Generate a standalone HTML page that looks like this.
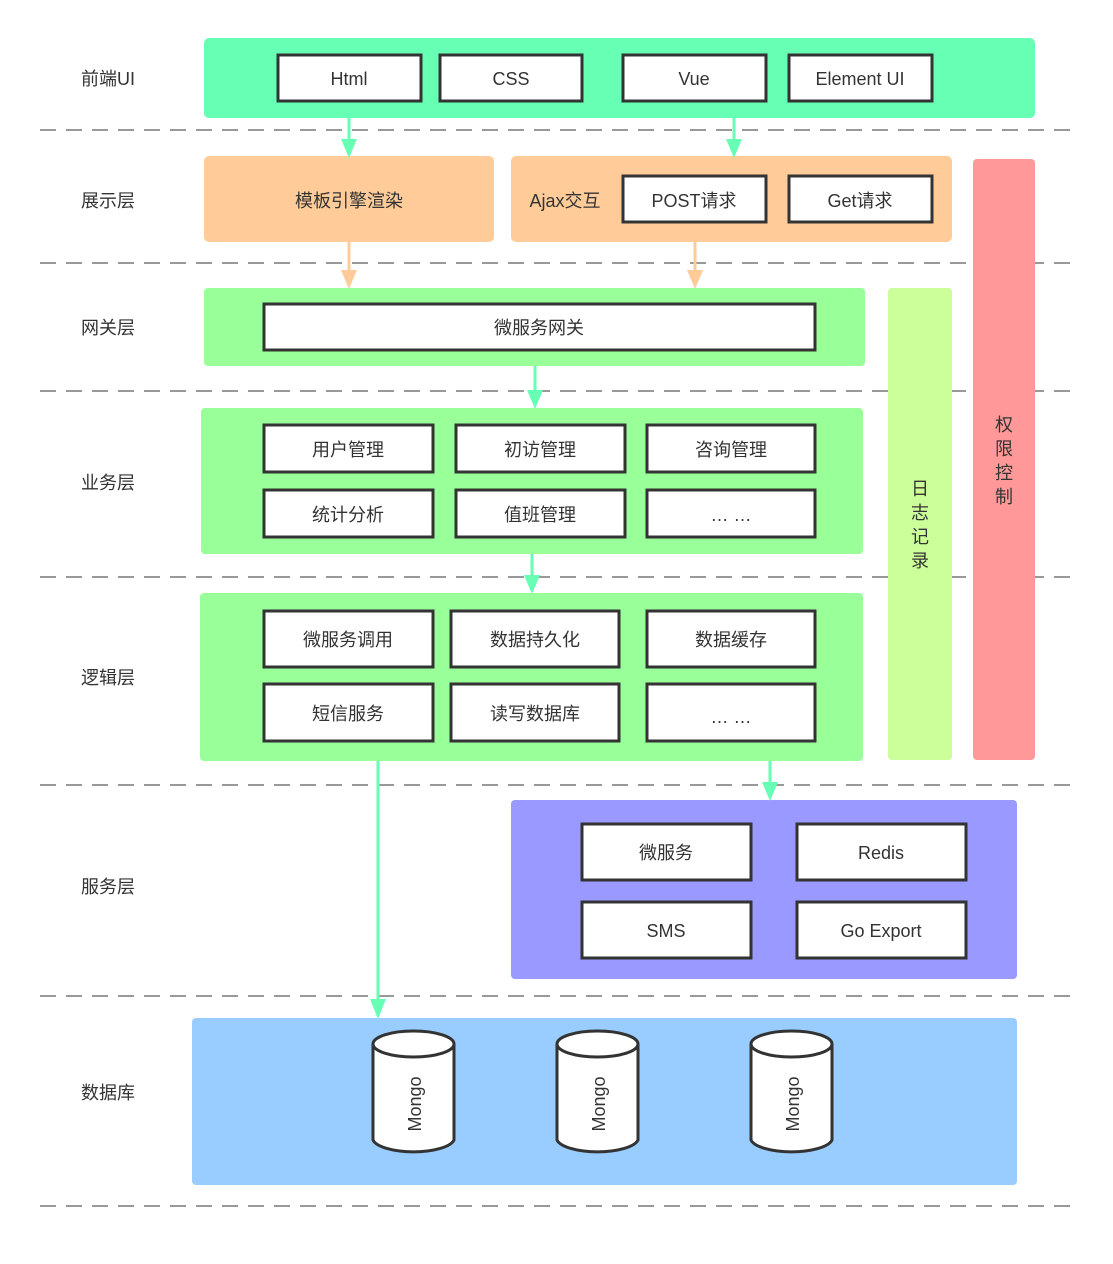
<!DOCTYPE html><html><head><meta charset="utf-8"><style>body{margin:0;background:#fff}text{font-family:"Liberation Sans","Noto Sans CJK SC",sans-serif;font-size:18px;fill:#333}</style></head><body>
<svg width="1113" height="1259" xmlns="http://www.w3.org/2000/svg">
<g stroke="#999" stroke-width="2" stroke-dasharray="16,10">
<line x1="40" y1="130" x2="1076" y2="130"/><line x1="40" y1="263" x2="1076" y2="263"/><line x1="40" y1="391" x2="1076" y2="391"/><line x1="40" y1="577" x2="1076" y2="577"/><line x1="40" y1="785" x2="1076" y2="785"/><line x1="40" y1="996" x2="1076" y2="996"/><line x1="40" y1="1206" x2="1076" y2="1206"/>
</g>
<g>
<text x="81" y="85">前端UI</text><text x="81" y="207">展示层</text><text x="81" y="334">网关层</text><text x="81" y="489">业务层</text><text x="81" y="684">逻辑层</text><text x="81" y="893">服务层</text><text x="81" y="1099">数据库</text>
</g>
<rect x="204" y="38" width="831" height="80" rx="5" fill="#66FFB3"/>
<rect x="204" y="156" width="290" height="86" rx="5" fill="#FFCC99"/>
<rect x="511" y="156" width="441" height="86" rx="5" fill="#FFCC99"/>
<rect x="973" y="159" width="62" height="601" rx="4" fill="#FF9999"/>
<rect x="888" y="288" width="64" height="472" rx="4" fill="#CCFF99"/>
<rect x="204" y="288" width="661" height="78" rx="4" fill="#99FF99"/>
<rect x="201" y="408" width="662" height="146" rx="4" fill="#99FF99"/>
<rect x="200" y="593" width="663" height="168" rx="4" fill="#99FF99"/>
<rect x="511" y="800" width="506" height="179" rx="4" fill="#9999FF"/>
<rect x="192" y="1018" width="825" height="167" rx="4" fill="#99CCFF"/>
<g fill="#fff" stroke="#333" stroke-width="3">
<rect x="278" y="55" width="143" height="46"/><rect x="440" y="55" width="142" height="46"/><rect x="623" y="55" width="143" height="46"/><rect x="789" y="55" width="143" height="46"/>
<rect x="623" y="176" width="143" height="46"/><rect x="789" y="176" width="143" height="46"/>
<rect x="264" y="304" width="551" height="46"/>
<rect x="264" y="425" width="169" height="47"/><rect x="456" y="425" width="169" height="47"/><rect x="647" y="425" width="168" height="47"/>
<rect x="264" y="490" width="169" height="47"/><rect x="456" y="490" width="169" height="47"/><rect x="647" y="490" width="168" height="47"/>
<rect x="264" y="611" width="169" height="56"/><rect x="451" y="611" width="168" height="56"/><rect x="647" y="611" width="168" height="56"/>
<rect x="264" y="684" width="169" height="57"/><rect x="451" y="684" width="168" height="57"/><rect x="647" y="684" width="168" height="57"/>
<rect x="582" y="824" width="169" height="56"/><rect x="797" y="824" width="169" height="56"/>
<rect x="582" y="902" width="169" height="56"/><rect x="797" y="902" width="169" height="56"/>
</g>
<g text-anchor="middle">
<text x="349" y="85">Html</text><text x="511" y="85">CSS</text><text x="694" y="85">Vue</text><text x="860" y="85">Element UI</text>
<text x="349" y="207">模板引擎渲染</text><text x="565" y="207">Ajax交互</text><text x="694" y="207">POST请求</text><text x="860" y="207">Get请求</text>
<text x="539" y="334">微服务网关</text>
<text x="348" y="456">用户管理</text><text x="540" y="456">初访管理</text><text x="731" y="456">咨询管理</text>
<text x="348" y="521">统计分析</text><text x="540" y="521">值班管理</text><text x="731" y="521">… …</text>
<text x="348" y="646">微服务调用</text><text x="535" y="646">数据持久化</text><text x="731" y="646">数据缓存</text>
<text x="348" y="720">短信服务</text><text x="535" y="720">读写数据库</text><text x="731" y="723">… …</text>
<text x="666" y="859">微服务</text><text x="881" y="859">Redis</text><text x="666" y="937">SMS</text><text x="881" y="937">Go Export</text>
<text x="920" y="495">日</text><text x="920" y="519">志</text><text x="920" y="543">记</text><text x="920" y="567">录</text>
<text x="1004" y="431">权</text><text x="1004" y="455">限</text><text x="1004" y="479">控</text><text x="1004" y="503">制</text>
</g>
<g id="cyl"></g>
<g fill="#fff" stroke="#333" stroke-width="3">
<path d="M373 1044 V1140 A41 14 0 0 0 454 1140 V1044"/><ellipse cx="413.5" cy="1044" rx="40.5" ry="13"/>
<path d="M557 1044 V1140 A41 14 0 0 0 638 1140 V1044"/><ellipse cx="597.5" cy="1044" rx="40.5" ry="13"/>
<path d="M751 1044 V1140 A41 14 0 0 0 832 1140 V1044"/><ellipse cx="791.5" cy="1044" rx="40.5" ry="13"/>
</g>
<text transform="translate(421,1104) rotate(-90)" text-anchor="middle">Mongo</text>
<text transform="translate(605,1104) rotate(-90)" text-anchor="middle">Mongo</text>
<text transform="translate(799,1104) rotate(-90)" text-anchor="middle">Mongo</text>
<g stroke-width="3">
<g stroke="#66FFB3" fill="#66FFB3">
<line x1="349" y1="118" x2="349" y2="145"/><polygon points="341,139 357,139 349,158" stroke="none"/>
<line x1="734" y1="118" x2="734" y2="145"/><polygon points="726,139 742,139 734,158" stroke="none"/>
<line x1="535" y1="366" x2="535" y2="396"/><polygon points="527,390 543,390 535,409" stroke="none"/>
<line x1="532" y1="554" x2="532" y2="582"/><polygon points="524,575 540,575 532,594" stroke="none"/>
<line x1="378" y1="761" x2="378" y2="1006"/><polygon points="370,999 386,999 378,1019" stroke="none"/>
<line x1="770" y1="761" x2="770" y2="789"/><polygon points="762,782 778,782 770,801" stroke="none"/>
</g>
<g stroke="#FFCC99" fill="#FFCC99">
<line x1="349" y1="242" x2="349" y2="276"/><polygon points="341,270 357,270 349,289" stroke="none"/>
<line x1="695" y1="242" x2="695" y2="276"/><polygon points="687,270 703,270 695,289" stroke="none"/>
</g>
</g>
</svg></body></html>
